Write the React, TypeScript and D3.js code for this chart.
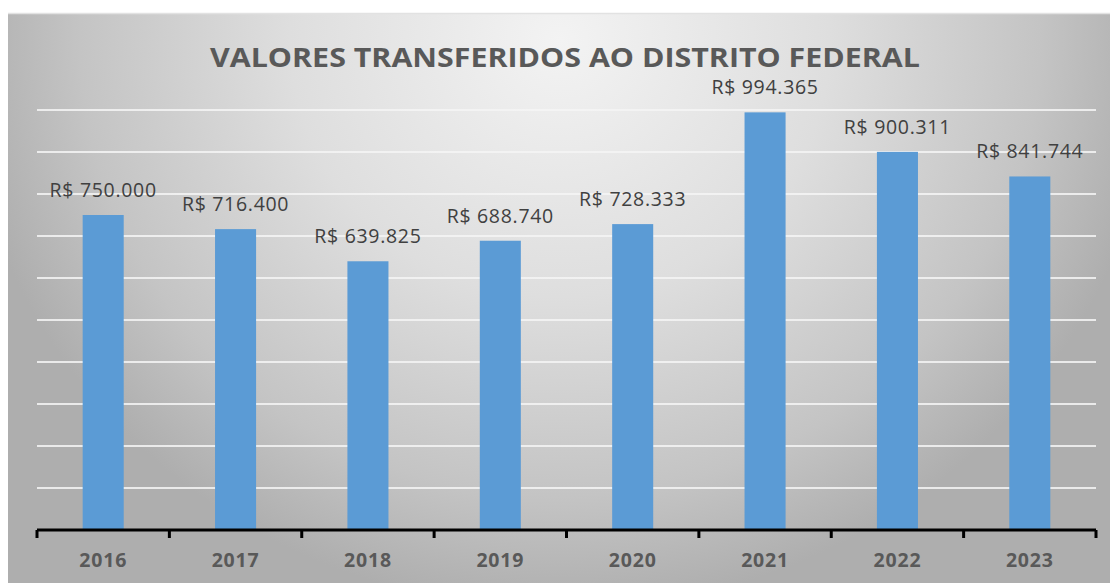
import React, { useEffect, useRef } from 'react'
import * as d3 from 'd3'

const years = ['2016', '2017', '2018', '2019', '2020', '2021', '2022', '2023']
const valores = [750000, 716400, 639825, 688740, 728333, 994365, 900311, 841744]
const titulo = 'VALORES TRANSFERIDOS AO DISTRITO FEDERAL'

const W = 1110
const H = 583

const App = () => {
  const ref = useRef<SVGSVGElement>(null)

  useEffect(() => {
    const svg = d3.select(ref.current)
    svg.selectAll('*').remove()

    const margin = { top: 110, left: 37, right: 14, bottom: 53 }
    const data = years.map((y, i) => ({ year: y, value: valores[i] }))

    const defs = svg.append('defs')
    const grad = defs
      .append('radialGradient')
      .attr('id', 'bg')
      .attr('gradientUnits', 'userSpaceOnUse')
      .attr('cx', 560)
      .attr('cy', 40)
      .attr('r', 600)
      .attr('gradientTransform', 'translate(560,40) scale(1,0.95) translate(-560,-40)')
    grad.append('stop').attr('offset', 0).attr('stop-color', '#f3f3f3')
    grad.append('stop').attr('offset', 0.45).attr('stop-color', '#dedede')
    grad.append('stop').attr('offset', 0.8).attr('stop-color', '#c4c4c4')
    grad.append('stop').attr('offset', 1).attr('stop-color', '#aeaeae')

    svg.append('rect').attr('width', W).attr('height', H).attr('fill', '#ffffff')
    svg
      .append('rect')
      .attr('x', 8)
      .attr('y', 13)
      .attr('width', W - 8)
      .attr('height', H - 13)
      .attr('fill', 'url(#bg)')
    svg // top border
      .append('line')
      .attr('x1', 8)
      .attr('x2', W)
      .attr('y1', 13.5)
      .attr('y2', 13.5)
      .attr('stroke', '#e2e2e2')
      .attr('stroke-width', 1.5)

    const x = d3
      .scaleBand()
      .domain(years)
      .range([margin.left, W - margin.right])
      .padding(0)
    const y = d3.scaleLinear().domain([0, 1000000]).range([H - margin.bottom, margin.top])

    svg // gridlines
      .append('g')
      .selectAll('line')
      .data(y.ticks(10).filter(t => t > 0))
      .enter()
      .append('line')
      .attr('x1', margin.left)
      .attr('x2', W - margin.right)
      .attr('y1', d => y(d))
      .attr('y2', d => y(d))
      .attr('stroke', '#f4f4f4')
      .attr('stroke-opacity', 0.85)
      .attr('stroke-width', 2)

    const bw = x.bandwidth() * 0.31
    svg
      .append('g')
      .selectAll('rect')
      .data(data)
      .enter()
      .append('rect')
      .attr('x', d => (x(d.year) as number) + x.bandwidth() / 2 - bw / 2)
      .attr('y', d => y(d.value))
      .attr('width', bw)
      .attr('height', d => y(0) - y(d.value))
      .attr('fill', '#5b9bd5')

    const br = d3.formatLocale({
      decimal: ',',
      thousands: '.',
      grouping: [3],
      currency: ['R$ ', ''],
    })
    const fmt = br.format('$,.0f')

    svg // value labels
      .append('g')
      .selectAll('text')
      .data(data)
      .enter()
      .append('text')
      .text(d => fmt(d.value))
      .attr('x', d => (x(d.year) as number) + x.bandwidth() / 2)
      .attr('y', d => y(d.value) - 18)
      .attr('text-anchor', 'middle')
      .attr('font-family', '"Open Sans", sans-serif')
      .attr('font-size', '19.5px')
      .attr('letter-spacing', '0.7px')
      .attr('fill', '#404040')

    // x axis
    const axisY = y(0)
    const ax = svg.append('g')
    ax.append('line')
      .attr('x1', margin.left)
      .attr('x2', W - margin.right)
      .attr('y1', axisY)
      .attr('y2', axisY)
      .attr('stroke', '#000')
      .attr('stroke-width', 3)
    const bounds = years.map(d => x(d) as number).concat([W - margin.right])
    ax.selectAll('.tick')
      .data(bounds)
      .enter()
      .append('line')
      .attr('x1', d => d)
      .attr('x2', d => d)
      .attr('y1', axisY)
      .attr('y2', axisY + 8)
      .attr('stroke', '#000')
      .attr('stroke-width', 3)
    ax.selectAll('text')
      .data(years)
      .enter()
      .append('text')
      .text(d => d)
      .attr('x', d => (x(d) as number) + x.bandwidth() / 2)
      .attr('y', 567)
      .attr('text-anchor', 'middle')
      .attr('font-family', '"Open Sans", sans-serif')
      .attr('font-weight', 'bold')
      .attr('font-size', '19.5px')
      .attr('letter-spacing', '0.8px')
      .attr('fill', '#595959')

    svg // title
      .append('text')
      .text(titulo)
      .attr('x', 565)
      .attr('y', 67)
      .attr('text-anchor', 'middle')
      .attr('font-family', '"Open Sans", sans-serif')
      .attr('font-weight', 'bold')
      .attr('font-size', '27px')
      .attr('fill', '#595959')
      .attr('textLength', 710)
      .attr('lengthAdjust', 'spacingAndGlyphs')
  }, [])

  return (
    <svg
      ref={ref}
      width={W}
      height={H}
      style={{ position: 'absolute', left: 0, top: 0 }}
    />
  )
}

export default App
